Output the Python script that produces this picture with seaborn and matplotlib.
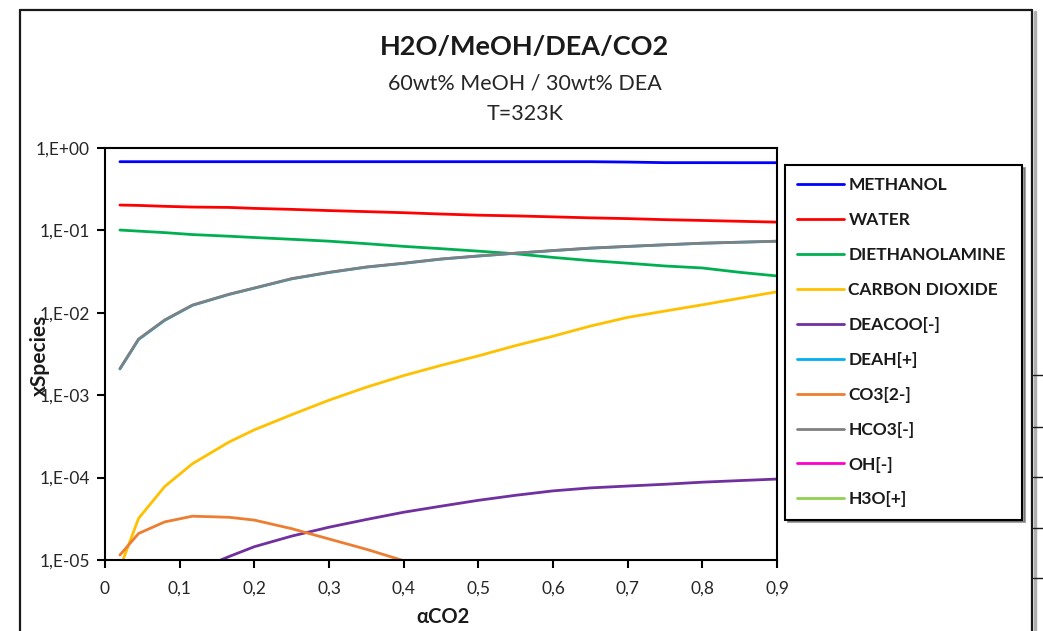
import numpy as np
import pandas as pd
import seaborn as sns
import matplotlib.pyplot as plt
from matplotlib.lines import Line2D
from matplotlib.ticker import FixedLocator, NullLocator

# CO2 loading (x axis)
alpha_co2 = [0.02, 0.045, 0.08, 0.117, 0.166, 0.2, 0.25, 0.3, 0.35, 0.4,
             0.45, 0.5, 0.55, 0.6, 0.65, 0.7, 0.75, 0.8, 0.85, 0.9]

# mole fractions
methanol = [0.682, 0.682, 0.682, 0.682, 0.682, 0.682, 0.682, 0.682, 0.682, 0.682,
            0.682, 0.682, 0.682, 0.682, 0.682, 0.675, 0.664, 0.664, 0.663, 0.663]
water = [0.203, 0.201, 0.196, 0.192, 0.19, 0.185, 0.180, 0.174, 0.169, 0.164,
         0.158, 0.153, 0.150, 0.146, 0.142, 0.139, 0.135, 0.132, 0.129, 0.126]
diethanolamine = [0.101, 0.098, 0.094, 0.089, 0.085, 0.082, 0.078, 0.074, 0.069, 0.064,
                  0.060, 0.056, 0.052, 0.047, 0.043, 0.040, 0.037, 0.035, 0.031, 0.028]
carbon_dioxide = [8.0e-6, 3.2e-5, 7.8e-5, 1.47e-4, 2.7e-4, 3.8e-4, 5.8e-4, 8.7e-4, 1.25e-3, 1.73e-3,
                  2.3e-3, 3.0e-3, 4.0e-3, 5.2e-3, 6.9e-3, 8.8e-3, 1.05e-2, 1.25e-2, 1.5e-2, 1.8e-2]
deacoo = [1.5e-6, 2.8e-6, 4.8e-6, 7.2e-6, 1.1e-5, 1.45e-5, 1.95e-5, 2.5e-5, 3.1e-5, 3.8e-5,
          4.5e-5, 5.3e-5, 6.1e-5, 6.9e-5, 7.5e-5, 7.9e-5, 8.3e-5, 8.8e-5, 9.2e-5, 9.6e-5]
deah = [0.00208, 0.00475, 0.0081, 0.0123, 0.0167, 0.0199, 0.0258, 0.0308, 0.0358, 0.0398,
        0.0448, 0.0488, 0.0528, 0.0568, 0.0608, 0.0638, 0.0668, 0.0698, 0.0718, 0.0738]
co3 = [1.15e-5, 2.1e-5, 2.9e-5, 3.4e-5, 3.3e-5, 3.05e-5, 2.4e-5, 1.8e-5, 1.35e-5, 9.8e-6,
       7.0e-6, 5.0e-6, 3.6e-6, 2.6e-6, 1.9e-6, 1.4e-6, 1.0e-6, 7.5e-7, 5.5e-7, 4.0e-7]
hco3 = [0.0021, 0.0048, 0.0082, 0.0124, 0.0168, 0.020, 0.026, 0.031, 0.036, 0.040,
        0.045, 0.049, 0.053, 0.057, 0.061, 0.064, 0.067, 0.070, 0.072, 0.074]
oh = [4.0e-7, 3.0e-7, 2.2e-7, 1.6e-7, 1.1e-7, 9.0e-8, 6.5e-8, 4.8e-8, 3.6e-8, 2.7e-8,
      2.0e-8, 1.5e-8, 1.2e-8, 9.0e-9, 7.0e-9, 5.5e-9, 4.3e-9, 3.4e-9, 2.7e-9, 2.1e-9]
h3o = [1.0e-11, 1.5e-11, 2.2e-11, 3.0e-11, 4.4e-11, 5.5e-11, 7.5e-11, 1.0e-10, 1.3e-10, 1.7e-10,
       2.2e-10, 2.8e-10, 3.5e-10, 4.4e-10, 5.5e-10, 6.8e-10, 8.5e-10, 1.05e-9, 1.3e-9, 1.6e-9]

species = ['METHANOL', 'WATER', 'DIETHANOLAMINE', 'CARBON DIOXIDE', 'DEACOO[-]',
           'DEAH[+]', 'CO3[2-]', 'HCO3[-]', 'OH[-]', 'H3O[+]']
series = [methanol, water, diethanolamine, carbon_dioxide, deacoo,
          deah, co3, hco3, oh, h3o]
colors = ['#0000FF', '#FF0000', '#00B050', '#FFC000', '#7030A0',
          '#00B0F0', '#ED7D31', '#808080', '#FF00CC', '#92D050']

y_ticks = [1e-5, 1e-4, 1e-3, 1e-2, 1e-1, 1e0]
y_tick_labels = ['1,E-05', '1,E-04', '1,E-03', '1,E-02', '1,E-01', '1,E+00']
x_ticks = [0, 0.1, 0.2, 0.3, 0.4, 0.5, 0.6, 0.7, 0.8, 0.9]
x_tick_labels = ['0', '0,1', '0,2', '0,3', '0,4', '0,5', '0,6', '0,7', '0,8', '0,9']

df = pd.DataFrame({
    'alpha': alpha_co2 * len(species),
    'x': np.concatenate(series),
    'species': np.repeat(species, len(alpha_co2)),
})

sns.set_theme(style='white')
plt.rcParams['font.family'] = ['Lato', 'DejaVu Sans']

W, H = 1043, 631
fig = plt.figure(figsize=(W / 100, H / 100), dpi=100)
ax = fig.add_axes([105 / W, 1 - 560 / H, (777 - 105) / W, (560 - 148) / H])

sns.lineplot(data=df, x='alpha', y='x', hue='species', hue_order=species,
             palette=colors, estimator=None, sort=False, linewidth=2, ax=ax)

ax.set_yscale('log')
ax.set_ylim(1e-5, 1)
ax.set_xlim(0, 0.9)
ax.yaxis.set_major_locator(FixedLocator(y_ticks))
ax.yaxis.set_minor_locator(NullLocator())
ax.set_yticklabels(y_tick_labels)
ax.set_xticks(x_ticks)
ax.set_xticklabels(x_tick_labels)
ax.tick_params(axis='both', which='major', direction='out', length=6, width=1.5,
               color='black', labelsize=12.5, labelcolor='#262626',
               left=True, bottom=True)
ax.tick_params(axis='x', pad=9)
ax.tick_params(axis='y', pad=5)
for s in ax.spines.values():
    s.set_color('black')
    s.set_linewidth(1.5)

ax.set_xlabel('αCO2', fontsize=14.5, fontweight='bold', color='#1a1a1a')
ax.xaxis.set_label_coords((443 - 105) / (777 - 105), -(607 - 560) / (560 - 148))
ax.set_ylabel('xSpecies', fontsize=15, fontweight='bold', color='#1a1a1a')
ax.yaxis.set_label_coords(-(105 - 50) / (777 - 105), (560 - 355) / (560 - 148))

leg = ax.legend(loc='upper left', bbox_to_anchor=(785 / W, 1 - 517 / H, 237 / W, 352 / H),
                bbox_transform=fig.transFigure, mode='expand', borderaxespad=0,
                frameon=True, fancybox=False, shadow=True, edgecolor='black',
                prop={'weight': 'bold', 'size': 12.5}, handlelength=2.7,
                handletextpad=0.25, labelspacing=1.09, borderpad=0.7)
leg.get_frame().set_linewidth(1.5)
for t in leg.get_texts():
    t.set_color('#1a1a1a')

fig.text(525 / W, 1 - 47 / H, 'H2O/MeOH/DEA/CO2', ha='center', va='center',
         fontsize=19.5, fontweight='bold', color='#1a1a1a')
fig.text(525 / W, 1 - 83 / H, '60wt% MeOH / 30wt% DEA', ha='center', va='center',
         fontsize=15.5, color='#262626')
fig.text(525 / W, 1 - 114 / H, 'T=323K', ha='center', va='center',
         fontsize=15.5, color='#262626')

# chart area frame and the edge of the sheet behind it
def px_line(x0, y0, x1, y1, **kw):
    fig.add_artist(Line2D([x0 / W, x1 / W], [1 - y0 / H, 1 - y1 / H],
                          transform=fig.transFigure, **kw))

px_line(1035, 12, 1035, 631, color='#b0b0b0', linewidth=2.5)
px_line(20, 10, 1032, 10, color='#1a1a1a', linewidth=1.6)
px_line(20, 10, 20, 631, color='#1a1a1a', linewidth=1.6)
px_line(1032, 10, 1032, 631, color='#1a1a1a', linewidth=1.6)
for yy in [375, 427, 477, 528, 578]:
    px_line(1033, yy, 1043, yy, color='#1a1a1a', linewidth=1)

fig.savefig('out.png', dpi=100)
